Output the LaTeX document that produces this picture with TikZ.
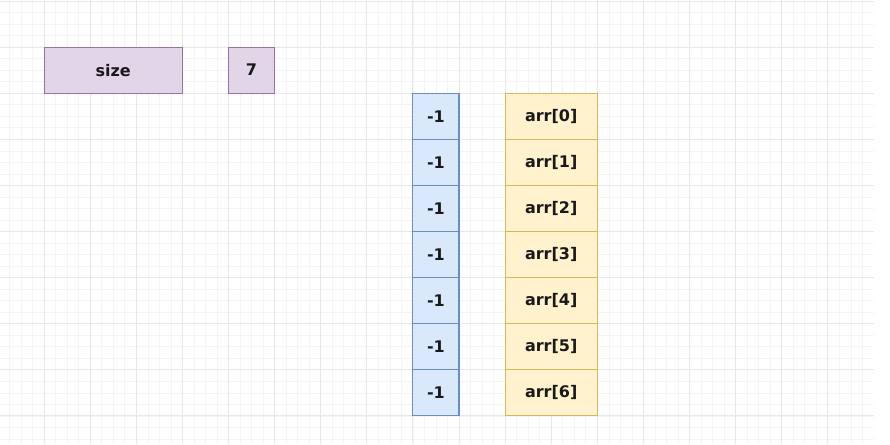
\documentclass[tikz,border=0pt]{standalone}
\usepackage{fontspec}
\setmainfont{DejaVu Sans}
\usepackage{tikz}
\usetikzlibrary{positioning}

\definecolor{lilacfill}{HTML}{E1D5E7}
\definecolor{lilacline}{HTML}{9673A6}
\definecolor{bluefill}{HTML}{DAE8FC}
\definecolor{blueline}{HTML}{6C8EBF}
\definecolor{sandfill}{HTML}{FFF2CC}
\definecolor{sandline}{HTML}{D6B656}
\definecolor{gridminor}{HTML}{F4F4F4}
\definecolor{gridmajor}{HTML}{E8E8E8}

\tikzset{
  cell/.style={draw, line width=1.1pt, inner sep=0pt, minimum height=46.1pt,
    font=\fontsize{16}{19}\selectfont\bfseries, text=black!90},
  varbox/.style={cell, fill=lilacfill, draw=lilacline},
  flagbox/.style={cell, fill=bluefill, draw=blueline, minimum width=46.1pt},
  arrbox/.style={cell, fill=sandfill, draw=sandline, minimum width=92.2pt}
}

\begin{document}
\begin{tikzpicture}[x=46.1pt, y=-46.1pt]
  \useasboundingbox[fill=white] (0.0434,-0.0217) rectangle (19.35,9.61);
  % background grid
  \foreach \k in {1,...,75}
    \draw[gridminor, line width=0.6pt] (\k/4,-0.0217) -- (\k/4,9.61);
  \foreach \k in {0,...,38}
    \draw[gridminor, line width=0.6pt] (0.0434,\k/4) -- (19,\k/4);
  \foreach \k in {1,...,18}
    \draw[gridmajor, line width=0.8pt] (\k,-0.0217) -- (\k,9.61);
  \foreach \k in {0,...,9}
    \draw[gridmajor, line width=0.8pt] (0.0434,\k) -- (19,\k);

  \node[varbox, minimum width=138.3pt] (size) at (2.5,1.5) {size};
  \node[varbox, minimum width=46.1pt] (val) at (5.5,1.5) {7};

  \foreach \i in {0,...,6} {
    \node[flagbox] (flag\i) at (9.5,2.5+\i) {-1};
    \node[arrbox] (arr\i) at (12,2.5+\i) {arr[\i]};
  }
\end{tikzpicture}
\end{document}
